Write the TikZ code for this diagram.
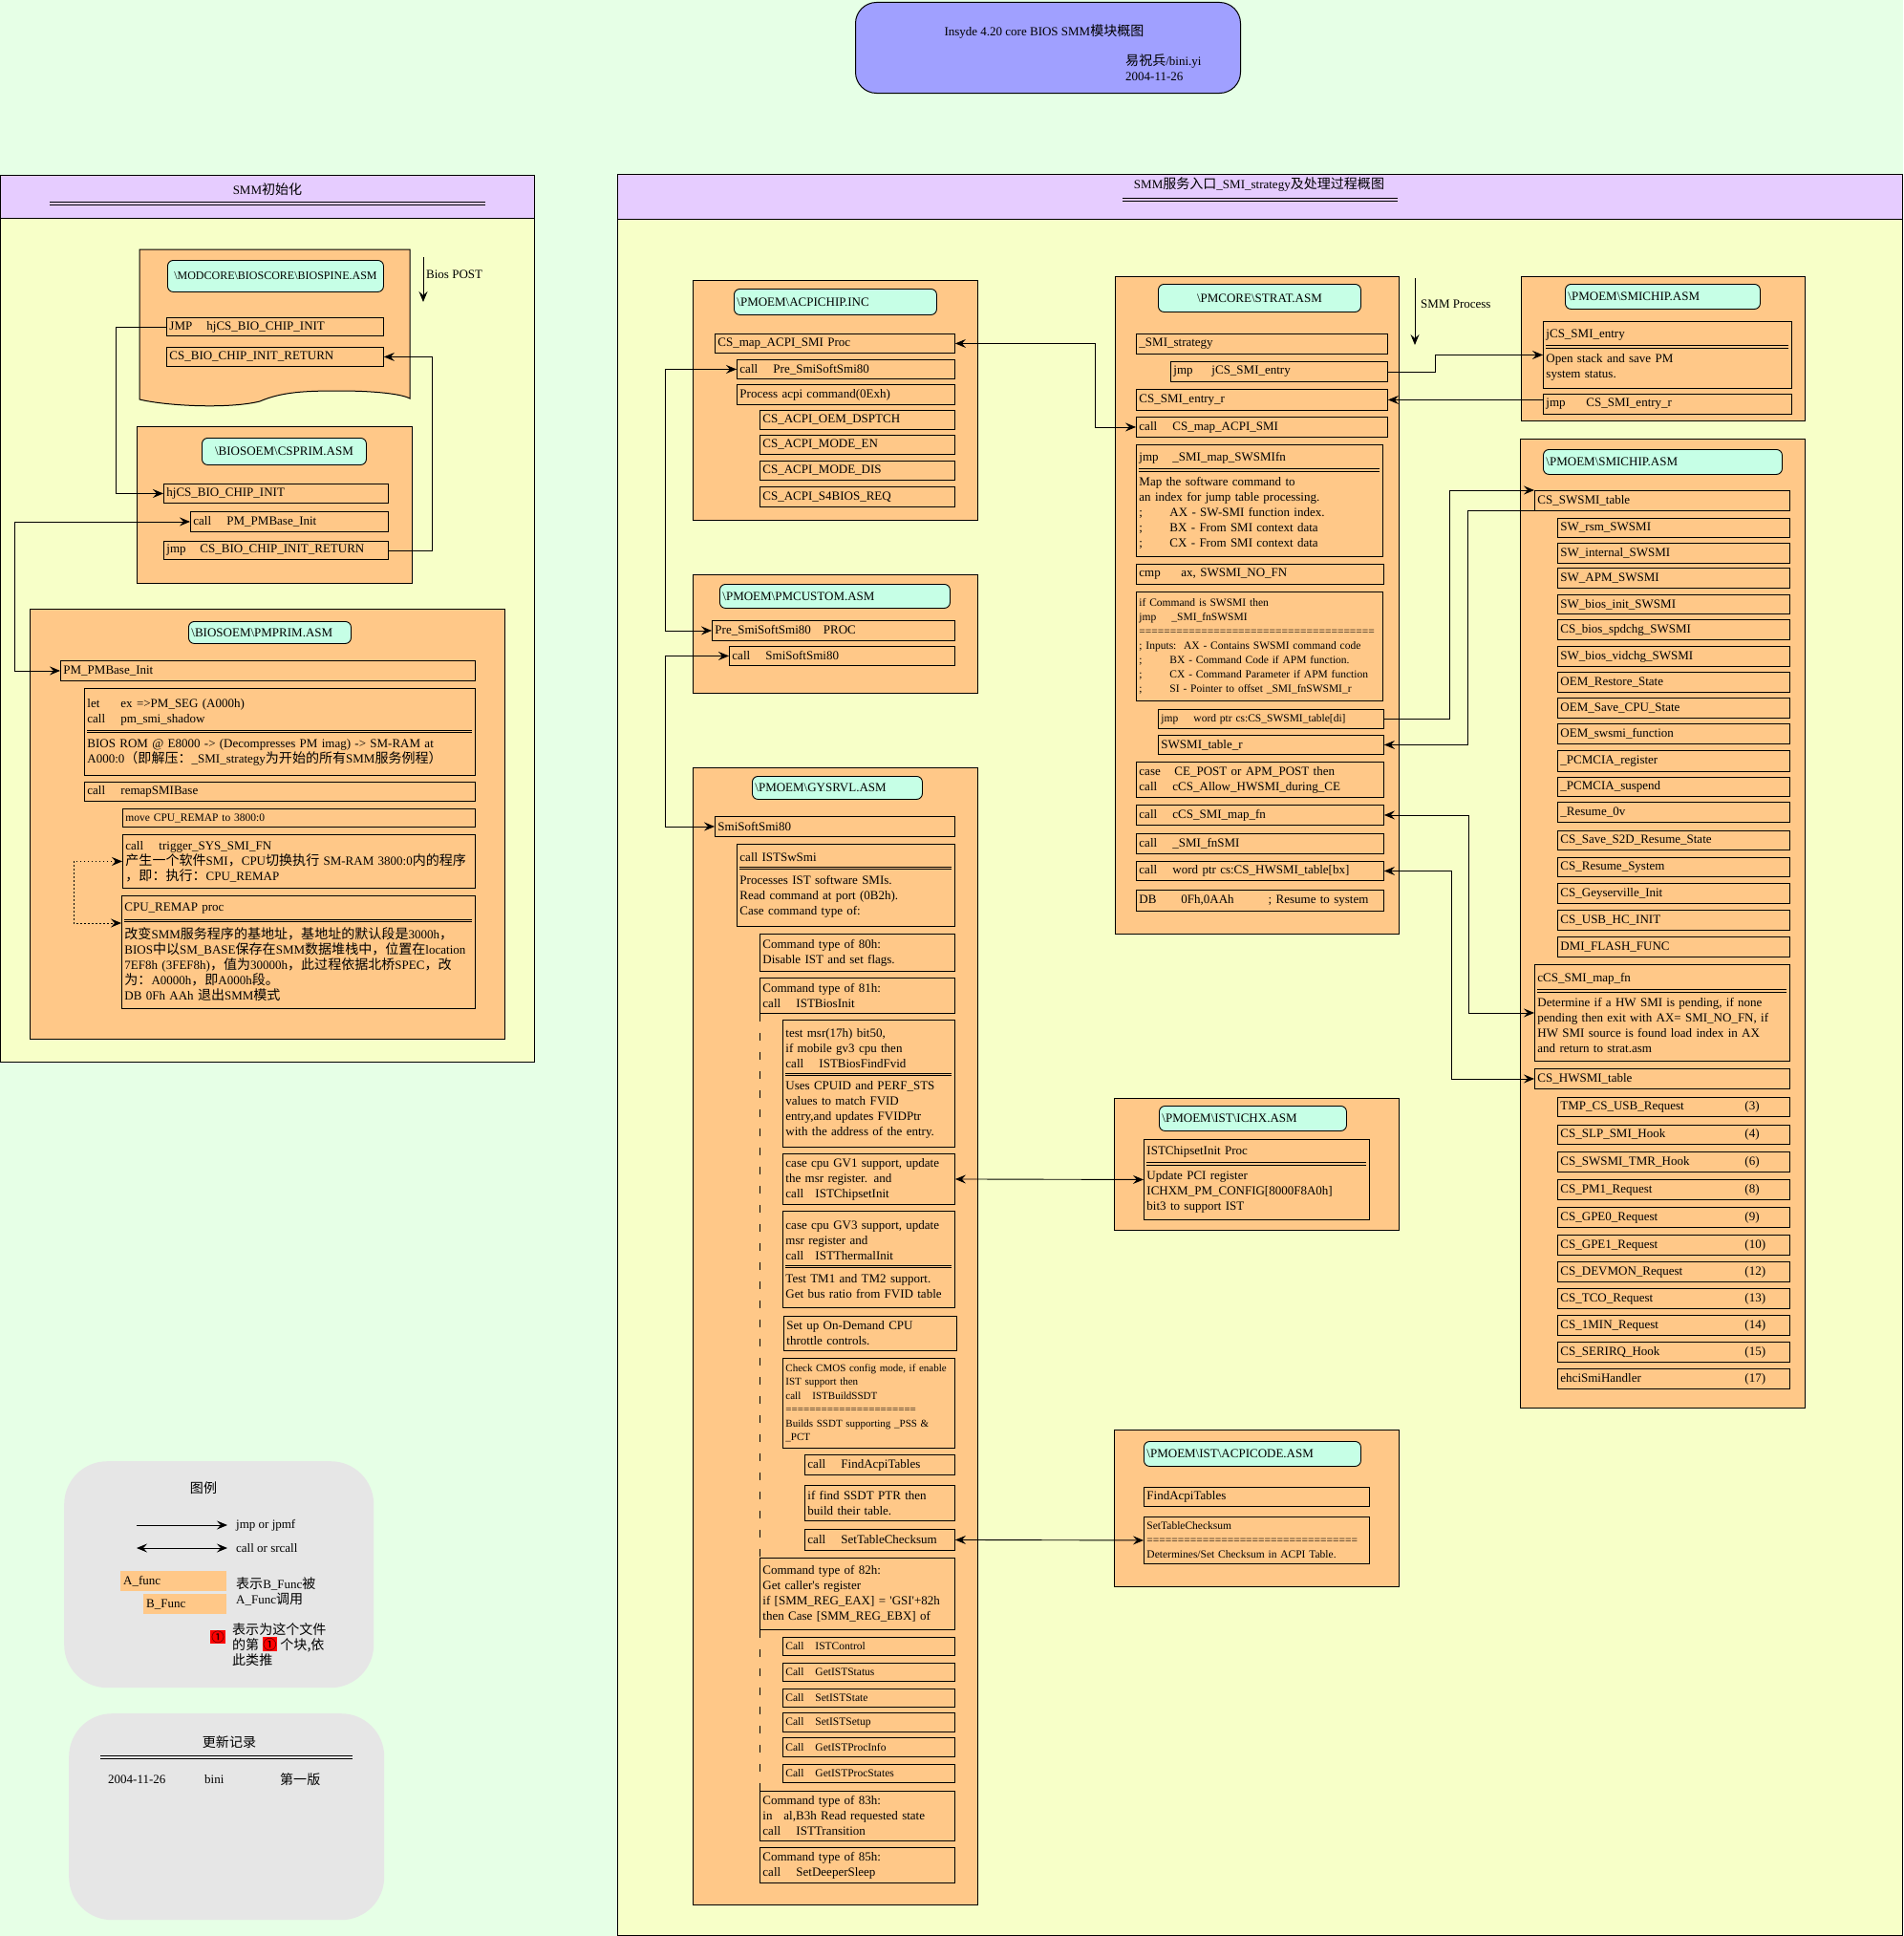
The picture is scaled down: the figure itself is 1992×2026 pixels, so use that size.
\documentclass[tikz,border=0pt]{standalone}
\usepackage{fontspec}
\setmainfont{Liberation Serif}
\newfontfamily\cjk[Scale=1.08]{Noto Sans CJK SC}
\usepackage{tikz}
\usetikzlibrary{arrows.meta}
\definecolor{BgMint}{RGB}{230,255,230}
\definecolor{PanelLemon}{RGB}{247,255,200}
\definecolor{HeadLilac}{RGB}{230,204,255}
\definecolor{FileOrange}{RGB}{255,200,136}
\definecolor{LabelCyan}{RGB}{198,255,230}
\definecolor{TitleBlue}{RGB}{160,160,255}
\definecolor{LegendGray}{RGB}{230,230,230}
\newcommand{\bsl}{\textbackslash}
\newcommand{\kw}[2][35pt]{\makebox[#1][l]{#2}}
\newcommand{\dline}{\par\vspace{5pt}\hrule height .8pt\vspace{1.6pt}\hrule height .8pt\vspace{6pt}}
\newcommand{\hwn}[2]{\makebox[193pt][l]{#1}(#2)}
\newcommand{\badge}{{\setlength{\fboxsep}{0.8pt}\colorbox{red}{\cjk ①}}}

\begin{document}
\begin{tikzpicture}[
  x=1pt, y=-1pt,
  bx/.code n args={4}{%
    \pgfmathsetmacro\bxw{#3-#1-6}%
    \pgfmathsetmacro\bxh{#4-#2}%
    \edef\bxopts{anchor=north west, at={(#1,#2)}, inner xsep=3pt, inner ysep=1pt,
      text width=\bxw pt, minimum height=\bxh pt}%
    \expandafter\tikzset\expandafter{\bxopts}},
  panel/.style={draw, fill=PanelLemon, line width=1.2pt},
  phead/.style={draw, fill=HeadLilac, line width=1.2pt},
  filebox/.style={draw, fill=FileOrange, line width=1pt},
  lbl/.style={draw, fill=LabelCyan, rounded corners=6pt, line width=0.9pt,
    align=left, font=\fontsize{13}{16}\selectfont},
  row/.style={draw, fill=FileOrange, line width=0.9pt,
    align=left, font=\fontsize{13}{16}\selectfont},
  sm/.style={font=\fontsize{11.5}{15}\selectfont},
  txt/.style={inner sep=0pt, font=\fontsize{13}{16}\selectfont},
  titlebox/.style={draw, fill=TitleBlue, rounded corners=22pt, line width=1pt},
  legbox/.style={fill=LegendGray, rounded corners=45pt},
  afill/.style={fill=FileOrange, align=left, font=\fontsize{13}{16}\selectfont},
  badgebox/.style={fill=red, inner sep=1pt, font=\fontsize{12.5}{14}\selectfont},
  jarr/.style={-{Stealth[length=11pt,width=9pt,inset=4pt]}, line width=0.9pt},
  carr/.style={{Stealth[length=11pt,width=9pt,inset=4pt]}-{Stealth[length=11pt,width=9pt,inset=4pt]}, line width=0.9pt},
  hrule/.style={double=#1, double distance=1.5pt, line width=0.8pt}
]

%% Canvas
\fill[BgMint] (0,0) rectangle (1992,2026);
\useasboundingbox (0,0) rectangle (1992,2026);

%% Title
\node[titlebox, bx={895}{2}{1298}{97}] (title) {};
\node[txt] (ttl) at (1093,33) {Insyde 4.20 core BIOS SMM{\cjk 模块概图}};
\node[txt, anchor=north west, align=left] (auth) at (1178,57) {{\cjk 易祝兵}/bini.yi\\2004-11-26};

%% Left panel -- SMM init
\node[panel, bx={0}{183}{559}{1111}] (lp) {};
\node[phead, bx={0}{183}{559}{228}] (lph) {};
\node[txt] (lpt) at (280,198) {SMM{\cjk 初始化}};
\draw[hrule=HeadLilac] (52,213) -- (508,213);

%% BIOSPINE.ASM
\draw[fill=FileOrange, line width=1pt] (146,261) -- (429,261) -- (429,417)
  .. controls (420,412) and (390,409) .. (355,409)
  .. controls (320,409) and (295,410) .. (272,420)
  .. controls (240,428) and (175,425) .. (146,418) -- cycle;
\node[lbl, bx={175}{272}{401}{305}, align=center, font=\fontsize{12}{14}\selectfont] (spl)
  {\bsl MODCORE\bsl BIOSCORE\bsl BIOSPINE.ASM};
\node[row, bx={174}{332}{401}{351}] (sp1) {\kw[39pt]{JMP}hjCS\_BIO\_CHIP\_INIT};
\node[row, bx={174}{363}{401}{383}] (sp2) {CS\_BIO\_CHIP\_INIT\_RETURN};
\coordinate (bp1) at (443,269);
\coordinate (bp2) at (443,316);
\node[txt, anchor=west] (bpl) at (446,287) {Bios POST};

%% CSPRIM.ASM
\node[filebox, bx={143}{446}{431}{610}] (csp) {};
\node[lbl, bx={211}{458}{383}{486}, align=center] (cspl) {\bsl BIOSOEM\bsl CSPRIM.ASM};
\node[row, bx={171}{506}{406}{526}] (cp1) {hjCS\_BIO\_CHIP\_INIT};
\node[row, bx={199}{535}{406}{556}] (cp2) {\kw{call}PM\_PMBase\_Init};
\node[row, bx={171}{566}{406}{585}] (cp3) {\kw{jmp}CS\_BIO\_CHIP\_INIT\_RETURN};

%% PMPRIM.ASM
\node[filebox, bx={31}{637}{528}{1087}] (pmp) {};
\node[lbl, bx={197}{650}{367}{673}] (pmpl) {\bsl BIOSOEM\bsl PMPRIM.ASM};
\node[row, bx={63}{691}{497}{712}] (pm1) {PM\_PMBase\_Init};
\node[row, bx={88}{720}{497}{811}] (pm2) {\kw{let}ex =>PM\_SEG (A000h)\\\kw{call}pm\_smi\_shadow\dline
  \mbox{BIOS ROM @ E8000 -> (Decompresses PM imag) -> SM-RAM at}\\
  \mbox{A000:0{\cjk （即解压：}\_SMI\_strategy{\cjk 为开始的所有}SMM{\cjk 服务例程）}}};
\node[row, bx={88}{818}{497}{838}] (pm3) {\kw{call}remapSMIBase};
\node[row, sm, bx={128}{846}{497}{865}] (pm4) {move CPU\_REMAP to 3800:0};
\node[row, bx={128}{873}{497}{929}] (pm5) {\kw{call}trigger\_SYS\_SMI\_FN\\
  \mbox{{\cjk 产生一个软件}SMI{\cjk ，}CPU{\cjk 切换执行} SM-RAM 3800:0{\cjk 内的程序}}\\
  {\cjk ，即：执行：}CPU\_REMAP};
\node[row, bx={127}{937}{497}{1055}] (pm6) {CPU\_REMAP proc\dline
  \mbox{{\cjk 改变}SMM{\cjk 服务程序的基地址，基地址的默认段是}3000h{\cjk ，}}\\
  \mbox{BIOS{\cjk 中以}SM\_BASE{\cjk 保存在}SMM{\cjk 数据堆栈中，位置在}location}\\
  \mbox{7EF8h (3FEF8h){\cjk ，值为}30000h{\cjk ，此过程依据北桥}SPEC{\cjk ，改}}\\
  {\cjk 为：}A0000h{\cjk ，即}A000h{\cjk 段。}\\
  DB 0Fh AAh {\cjk 退出}SMM{\cjk 模式}};

%% Left panel connectors
\draw[jarr] (bp1) -- (bp2);
\draw[jarr] (sp1.west) -- ++(-53,0) |- (cp1.west);
\draw[jarr] (cp3.east) -- ++(46,0) |- (sp2.east);
\draw[carr] (cp2.west) -- ++(-184,0) |- (pm1.west);
\draw[carr, dash pattern=on 1.5pt off 2.5pt] (pm5.west) -- ++(-51,0) |- ([yshift=-29pt]pm6.north west);

%% Right panel -- SMM entry
\node[panel, bx={646}{182}{1991}{2025}] (rp) {};
\node[phead, bx={646}{182}{1991}{229}] (rph) {};
\node[txt] (rpt) at (1318,193) {SMM{\cjk 服务入口}\_SMI\_strategy{\cjk 及处理过程概图}};
\draw[hrule=HeadLilac] (1175,209) -- (1463,209);

%% ACPICHIP.INC
\node[filebox, bx={725}{293}{1023}{544}] (acpi) {};
\node[lbl, bx={768}{302}{980}{329}] (acpil) {\bsl PMOEM\bsl ACPICHIP.INC};
\node[row, bx={748}{349}{999}{369}] (ac1) {CS\_map\_ACPI\_SMI Proc};
\node[row, bx={771}{376}{999}{396}] (ac2) {\kw{call}Pre\_SmiSoftSmi80};
\node[row, bx={771}{402}{999}{423}] (ac3) {Process acpi command(0Exh)};
\node[row, bx={795}{429}{999}{449}] (ac4) {CS\_ACPI\_OEM\_DSPTCH};
\node[row, bx={795}{455}{999}{475}] (ac5) {CS\_ACPI\_MODE\_EN};
\node[row, bx={795}{482}{999}{502}] (ac6) {CS\_ACPI\_MODE\_DIS};
\node[row, bx={795}{509}{999}{530}] (ac7) {CS\_ACPI\_S4BIOS\_REQ};

%% PMCUSTOM.ASM
\node[filebox, bx={725}{601}{1023}{725}] (pmcu) {};
\node[lbl, bx={753}{611}{994}{636}] (pmcul) {\bsl PMOEM\bsl PMCUSTOM.ASM};
\node[row, bx={745}{649}{999}{670}] (pc1) {Pre\_SmiSoftSmi80\quad PROC};
\node[row, bx={763}{676}{999}{696}] (pc2) {\kw{call}SmiSoftSmi80};

%% GYSRVL.ASM
\node[filebox, bx={725}{803}{1023}{1993}] (gys) {};
\node[lbl, bx={787}{812}{965}{836}] (gysl) {\bsl PMOEM\bsl GYSRVL.ASM};
\node[row, bx={748}{854}{999}{875}] (gy1) {SmiSoftSmi80};
\node[row, bx={771}{883}{999}{969}] (gy2) {call ISTSwSmi\dline Processes IST software SMIs.\\Read command at port (0B2h).\\Case command type of:};
\node[row, bx={795}{977}{999}{1016}] (gy3) {Command type of 80h:\\Disable IST and set flags.};
\node[row, bx={795}{1023}{999}{1060}] (gy4) {Command type of 81h:\\\kw{call}ISTBiosInit};
\node[row, bx={819}{1067}{999}{1200}] (gy5) {test msr(17h) bit50,\\if mobile gv3 cpu then\\\kw{call}ISTBiosFindFvid\dline
  Uses CPUID and PERF\_STS\\values to match FVID\\entry,and updates FVIDPtr\\with the address of the entry.};
\node[row, bx={819}{1207}{999}{1260}] (gy6) {case cpu GV1 support, update\\the msr register. and\\\kw[31pt]{call}ISTChipsetInit};
\node[row, bx={819}{1267}{999}{1368}] (gy7) {case cpu GV3 support, update\\msr register and\\\kw[31pt]{call}ISTThermalInit\dline
  Test TM1 and TM2 support.\\Get bus ratio from FVID table};
\node[row, bx={820}{1377}{1001}{1413}] (gy8) {Set up On-Demand CPU\\throttle controls.};
\node[row, bx={819}{1421}{999}{1515}, font=\fontsize{11}{14.5}\selectfont] (gy9)
  {\mbox{Check CMOS config mode, if enable}\\IST support then\\\kw[28pt]{call}ISTBuildSSDT\\
  \mbox{======================}\\\mbox{Builds SSDT supporting \_PSS \&}\\\_PCT};
\node[row, bx={842}{1522}{999}{1543}] (gy10) {\kw{call}FindAcpiTables};
\node[row, bx={842}{1554}{999}{1591}] (gy11) {if find SSDT PTR then\\build their table.};
\node[row, bx={842}{1600}{999}{1622}] (gy12) {\kw{call}SetTableChecksum};
\node[row, bx={795}{1630}{999}{1705}] (gy13) {Command type of 82h:\\Get caller\textquotesingle s register\\
  if [SMM\_REG\_EAX] = \textquotesingle GSI\textquotesingle +82h\\then Case [SMM\_REG\_EBX] of};
\node[row, sm, bx={819}{1713}{999}{1732}] (gy14) {\kw[31pt]{Call}ISTControl};
\node[row, sm, bx={819}{1740}{999}{1759}] (gy15) {\kw[31pt]{Call}GetISTStatus};
\node[row, sm, bx={819}{1767}{999}{1786}] (gy16) {\kw[31pt]{Call}SetISTState};
\node[row, sm, bx={819}{1792}{999}{1812}] (gy17) {\kw[31pt]{Call}SetISTSetup};
\node[row, sm, bx={819}{1818}{999}{1838}] (gy18) {\kw[31pt]{Call}GetISTProcInfo};
\node[row, sm, bx={819}{1846}{999}{1865}] (gy19) {\kw[31pt]{Call}GetISTProcStates};
\node[row, bx={795}{1874}{999}{1926}] (gy20) {Command type of 83h:\\\kw[22pt]{in}al,B3h Read requested state\\\kw{call}ISTTransition};
\node[row, bx={795}{1933}{999}{1970}] (gy21) {Command type of 85h:\\\kw{call}SetDeeperSleep};
\draw[dash pattern=on 8pt off 12pt, line width=0.9pt] (gy4.south west) -- (gy13.north west);
\draw[dash pattern=on 8pt off 12pt, line width=0.9pt] (gy13.south west) -- (gy20.north west);

%% STRAT.ASM
\node[filebox, bx={1167}{289}{1464}{977}] (strat) {};
\node[lbl, bx={1212}{297}{1424}{326}, align=center] (stratl) {\bsl PMCORE\bsl STRAT.ASM};
\coordinate (pa) at (1481,291);
\coordinate (pb) at (1481,361);
\node[txt, anchor=west] (pal) at (1487,318) {SMM Process};
\node[row, bx={1189}{349}{1452}{370}] (st1) {\_SMI\_strategy};
\node[row, bx={1225}{378}{1452}{399}] (st2) {\kw[40pt]{jmp}jCS\_SMI\_entry};
\node[row, bx={1189}{407}{1452}{429}] (st3) {CS\_SMI\_entry\_r};
\node[row, bx={1189}{436}{1452}{457}] (st4) {\kw{call}CS\_map\_ACPI\_SMI};
\node[row, bx={1189}{465}{1447}{582}] (st5) {\kw{jmp}\_SMI\_map\_SWSMIfn\dline
  Map the software command to\\an index for jump table processing.\\
  \kw[32pt]{;}AX - SW-SMI function index.\\\kw[32pt]{;}BX - From SMI context data\\\kw[32pt]{;}CX - From SMI context data};
\node[row, bx={1189}{590}{1448}{611}] (st6) {\kw[44pt]{cmp}ax, SWSMI\_NO\_FN};
\node[row, sm, bx={1189}{619}{1447}{733}] (st7) {if Command is SWSMI then\\\kw[34pt]{jmp}\_SMI\_fnSWSMI\\
  \mbox{======================================}\\
  \mbox{; Inputs:\ \ AX - Contains SWSMI command code}\\
  \kw[32pt]{;}BX - Command Code if APM function.\\
  \mbox{\kw[32pt]{;}CX - Command Parameter if APM function}\\
  \kw[32pt]{;}SI - Pointer to offset \_SMI\_fnSWSMI\_r};
\node[row, sm, bx={1212}{742}{1448}{762}] (st8) {\kw[34pt]{jmp}word ptr cs:CS\_SWSMI\_table[di]};
\node[row, bx={1212}{769}{1448}{789}] (st9) {SWSMI\_table\_r};
\node[row, bx={1189}{797}{1448}{834}] (st10) {\kw[37pt]{case}CE\_POST or APM\_POST then\\\kw{call}cCS\_Allow\_HWSMI\_during\_CE};
\node[row, bx={1189}{842}{1448}{863}] (st11) {\kw{call}cCS\_SMI\_map\_fn};
\node[row, bx={1189}{872}{1448}{893}] (st12) {\kw{call}\_SMI\_fnSMI};
\node[row, bx={1189}{901}{1448}{921}] (st13) {\kw{call}word ptr cs:CS\_HWSMI\_table[bx]};
\node[row, bx={1189}{931}{1448}{953}] (st14) {\kw[44pt]{DB}0Fh,0AAh\hspace{36pt}; Resume to system};

%% SMICHIP.ASM -- entry
\node[filebox, bx={1592}{289}{1889}{440}] (smi1) {};
\node[lbl, bx={1638}{297}{1842}{323}] (smi1l) {\bsl PMOEM\bsl SMICHIP.ASM};
\node[row, bx={1615}{336}{1875}{406}] (sm1) {jCS\_SMI\_entry\dline Open stack and save PM\\system status.};
\node[row, bx={1615}{412}{1875}{433}] (sm2) {\kw[42pt]{jmp}CS\_SMI\_entry\_r};

%% SMICHIP.ASM -- tables
\node[filebox, bx={1591}{459}{1889}{1473}] (smi2) {};
\node[lbl, bx={1615}{470}{1865}{496}] (smi2l) {\bsl PMOEM\bsl SMICHIP.ASM};
\node[row, bx={1606}{513}{1873}{534}] (sw0) {CS\_SWSMI\_table};
\node[row, bx={1630}{542}{1873}{562}] (sw1) {SW\_rsm\_SWSMI};
\node[row, bx={1630}{568}{1873}{589}] (sw2) {SW\_internal\_SWSMI};
\node[row, bx={1630}{594}{1873}{615}] (sw3) {SW\_APM\_SWSMI};
\node[row, bx={1630}{622}{1873}{642}] (sw4) {SW\_bios\_init\_SWSMI};
\node[row, bx={1630}{648}{1873}{669}] (sw5) {CS\_bios\_spdchg\_SWSMI};
\node[row, bx={1630}{676}{1873}{697}] (sw6) {SW\_bios\_vidchg\_SWSMI};
\node[row, bx={1630}{703}{1873}{724}] (sw7) {OEM\_Restore\_State};
\node[row, bx={1630}{730}{1873}{751}] (sw8) {OEM\_Save\_CPU\_State};
\node[row, bx={1630}{757}{1873}{778}] (sw9) {OEM\_swsmi\_function};
\node[row, bx={1630}{785}{1873}{807}] (sw10) {\_PCMCIA\_register};
\node[row, bx={1630}{813}{1873}{833}] (sw11) {\_PCMCIA\_suspend};
\node[row, bx={1630}{839}{1873}{860}] (sw12) {\_Resume\_0v};
\node[row, bx={1630}{869}{1873}{889}] (sw13) {CS\_Save\_S2D\_Resume\_State};
\node[row, bx={1630}{897}{1873}{917}] (sw14) {CS\_Resume\_System};
\node[row, bx={1630}{924}{1873}{945}] (sw15) {CS\_Geyserville\_Init};
\node[row, bx={1630}{952}{1873}{973}] (sw16) {CS\_USB\_HC\_INIT};
\node[row, bx={1630}{980}{1873}{1001}] (sw17) {DMI\_FLASH\_FUNC};
\node[row, bx={1606}{1009}{1873}{1110}] (mapfn) {cCS\_SMI\_map\_fn\dline
  Determine if a HW SMI is pending, if none\\pending then exit with AX= SMI\_NO\_FN, if\\
  HW SMI source is found load index in AX\\and return to strat.asm};
\node[row, bx={1606}{1118}{1873}{1139}] (hw0) {CS\_HWSMI\_table};
\node[row, bx={1630}{1148}{1873}{1168}] (hw1) {\hwn{TMP\_CS\_USB\_Request}{3}};
\node[row, bx={1630}{1177}{1873}{1197}] (hw2) {\hwn{CS\_SLP\_SMI\_Hook}{4}};
\node[row, bx={1630}{1205}{1873}{1226}] (hw3) {\hwn{CS\_SWSMI\_TMR\_Hook}{6}};
\node[row, bx={1630}{1234}{1873}{1255}] (hw4) {\hwn{CS\_PM1\_Request}{8}};
\node[row, bx={1630}{1263}{1873}{1284}] (hw5) {\hwn{CS\_GPE0\_Request}{9}};
\node[row, bx={1630}{1292}{1873}{1313}] (hw6) {\hwn{CS\_GPE1\_Request}{10}};
\node[row, bx={1630}{1320}{1873}{1341}] (hw7) {\hwn{CS\_DEVMON\_Request}{12}};
\node[row, bx={1630}{1348}{1873}{1369}] (hw8) {\hwn{CS\_TCO\_Request}{13}};
\node[row, bx={1630}{1376}{1873}{1397}] (hw9) {\hwn{CS\_1MIN\_Request}{14}};
\node[row, bx={1630}{1404}{1873}{1425}] (hw10) {\hwn{CS\_SERIRQ\_Hook}{15}};
\node[row, bx={1630}{1432}{1873}{1453}] (hw11) {\hwn{ehciSmiHandler}{17}};

%% IST\ICHX.ASM
\node[filebox, bx={1166}{1149}{1464}{1287}] (ichx) {};
\node[lbl, bx={1213}{1157}{1409}{1183}] (ichxl) {\bsl PMOEM\bsl IST\bsl ICHX.ASM};
\node[row, bx={1197}{1192}{1433}{1276}] (ich1) {ISTChipsetInit Proc\dline Update PCI register\\ICHXM\_PM\_CONFIG[8000F8A0h]\\bit3 to support IST};

%% IST\ACPICODE.ASM
\node[filebox, bx={1166}{1496}{1464}{1660}] (acpc) {};
\node[lbl, bx={1197}{1508}{1424}{1534}] (acpcl) {\bsl PMOEM\bsl IST\bsl ACPICODE.ASM};
\node[row, bx={1197}{1556}{1433}{1576}] (acp1) {FindAcpiTables};
\node[row, sm, bx={1197}{1587}{1433}{1636}] (acp2) {SetTableChecksum\\\mbox{==================================}\\\mbox{Determines/Set Checksum in ACPI Table.}};

%% Right panel connectors
\draw[jarr] (pa) -- (pb);
\draw[carr] (ac2.west) -- ++(-75,0) |- (pc1.west);
\draw[carr] (pc2.west) -- ++(-67,0) |- (gy1.west);
\draw[carr] (ac1.east) -- ++(147,0) |- (st4.west);
\draw[jarr] (st2.east) -- ++(50,0) |- (sm1.west);
\draw[jarr] (sm2.west |- st3.east) -- (st3.east);
\draw[jarr] (st8.east) -- ++(69,0) |- (sw0.north west);
\draw[jarr] (sw0.south west) -- ++(-70,0) |- (st9.east);
\draw[carr] (st11.east) -- ++(89,0) |- (mapfn.west);
\draw[carr] (st13.east) -- ++(71,0) |- (hw0.west);
\draw[carr] (gy6.east) -- (ich1.west);
\draw[carr] (gy12.east) -- (acp2.west);

%% Legend
\node[legbox, bx={67}{1529}{391}{1766}] (leg) {};
\node[txt] (legt) at (213,1557) {{\cjk 图例}};
\coordinate (l1a) at (143,1596);
\coordinate (l1b) at (238,1596);
\coordinate (l2a) at (143,1620);
\coordinate (l2b) at (238,1620);
\draw[jarr] (l1a) -- (l1b);
\draw[carr] (l2a) -- (l2b);
\node[txt, anchor=west] (legj) at (247,1596) {jmp or jpmf};
\node[txt, anchor=west] (legc) at (247,1620) {call or srcall};
\node[afill, bx={126}{1644}{237}{1665}] (lega) {A\_func};
\node[afill, bx={150}{1668}{237}{1689}] (legb) {B\_Func};
\node[txt, anchor=north west, align=left] (legab) at (247,1650) {{\cjk 表示}B\_Func{\cjk 被}\\A\_Func{\cjk 调用}};
\node[badgebox] (legn) at (228,1713) {\cjk ①};
\node[txt, anchor=north west, align=left] (legnt) at (243,1698) {{\cjk 表示为这个文件}\\{\cjk 的第} \badge{} {\cjk 个块,依}\\{\cjk 此类推}};

%% Update log
\node[legbox, bx={72}{1793}{402}{2009}] (upd) {};
\node[txt] (updt) at (240,1823) {{\cjk 更新记录}};
\draw[hrule=LegendGray] (105,1839) -- (369,1839);
\node[txt, anchor=west] (upd1) at (113,1862) {2004-11-26};
\node[txt, anchor=west] (upd2) at (214,1862) {bini};
\node[txt, anchor=west] (upd3) at (293,1862) {{\cjk 第一版}};

\end{tikzpicture}
\end{document}
